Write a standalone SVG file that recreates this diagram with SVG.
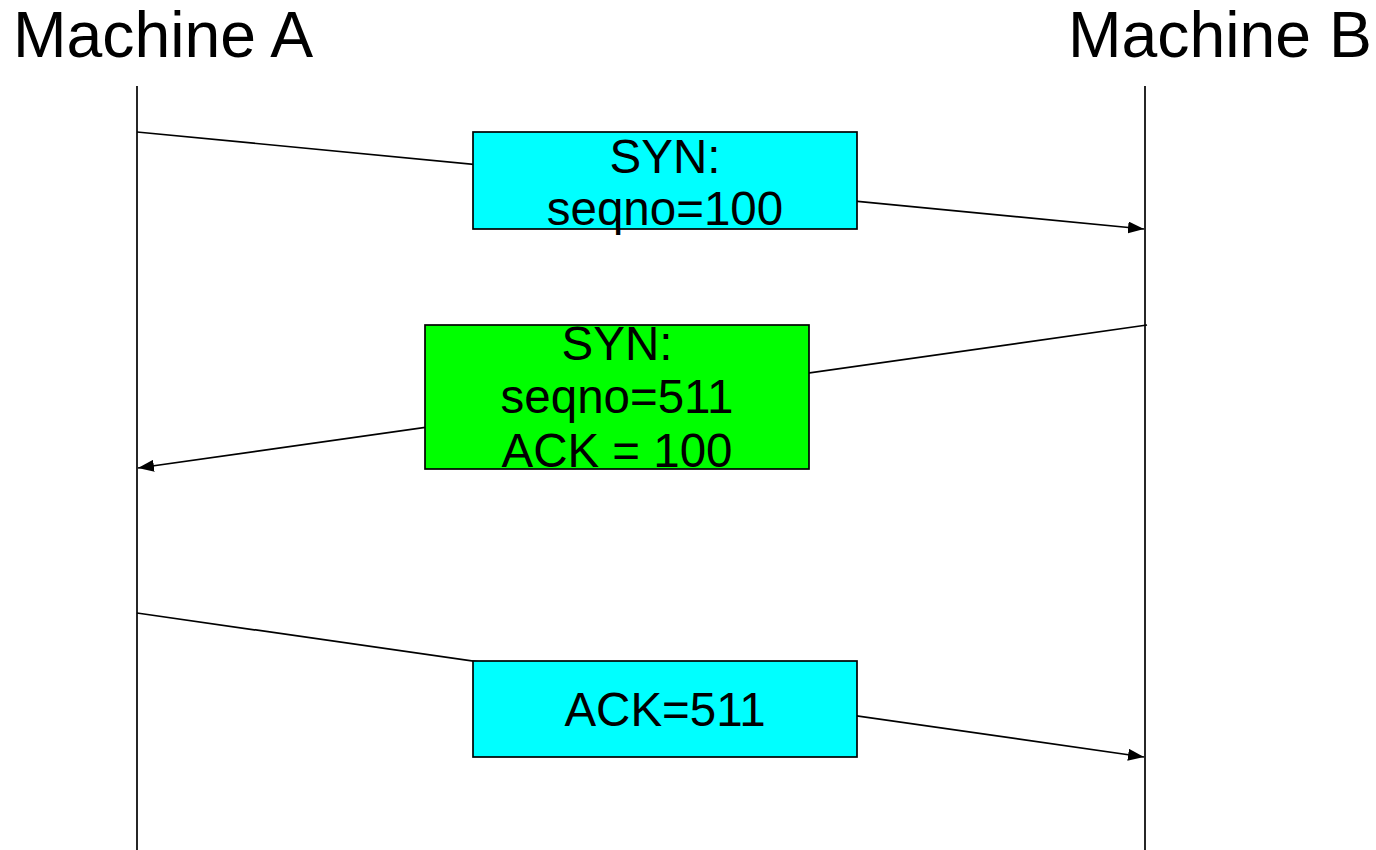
<svg xmlns="http://www.w3.org/2000/svg" width="1376" height="850" viewBox="0 0 1376 850">
<style>
.title{font-family:"Liberation Sans",Arial,sans-serif;font-size:64.3px;fill:#000}
.lbl{font-family:"Liberation Sans",Arial,sans-serif;font-size:47.5px;fill:#000;text-anchor:middle}
.life{stroke:#000;stroke-width:1.7;fill:none}
.msg{stroke:#000;stroke-width:1.7;fill:none}
.box{stroke:#000;stroke-width:1.7}
</style>
<defs>
<marker id="arr" viewBox="0 0 16 12" refX="16" refY="6" markerWidth="16" markerHeight="12" markerUnits="userSpaceOnUse" orient="auto">
<path d="M0,0 L16,6 L0,12 Z" fill="#000"/>
</marker>
</defs>
<rect width="1376" height="850" fill="#fff"/>
<g id="machineA">
<text class="title" x="13" y="57">Machine A</text>
<line class="life" x1="137" y1="86" x2="137" y2="850"/>
</g>
<g id="machineB">
<text class="title" x="1068" y="57">Machine B</text>
<line class="life" x1="1145" y1="86" x2="1145" y2="850"/>
</g>
<g id="connectors">
<line class="msg" x1="137" y1="132" x2="1144" y2="229" marker-end="url(#arr)"/>
<line class="msg" x1="1147" y1="325" x2="138" y2="468" marker-end="url(#arr)"/>
<line class="msg" x1="137" y1="613" x2="1144" y2="757" marker-end="url(#arr)"/>
</g>
<g id="syn1">
<rect class="box" x="473" y="132" width="384" height="97" fill="#00ffff"/>
<text class="lbl" x="665" y="173">SYN:</text>
<text class="lbl" x="665" y="225">seqno=100</text>
</g>
<g id="synack">
<rect class="box" x="425" y="325" width="384" height="144" fill="#00ff00"/>
<text class="lbl" x="617" y="360">SYN:</text>
<text class="lbl" x="617" y="413">seqno=511</text>
<text class="lbl" x="617" y="467">ACK = 100</text>
</g>
<g id="ack">
<rect class="box" x="473" y="661" width="384" height="96" fill="#00ffff"/>
<text class="lbl" x="665" y="726">ACK=511</text>
</g>
</svg>
